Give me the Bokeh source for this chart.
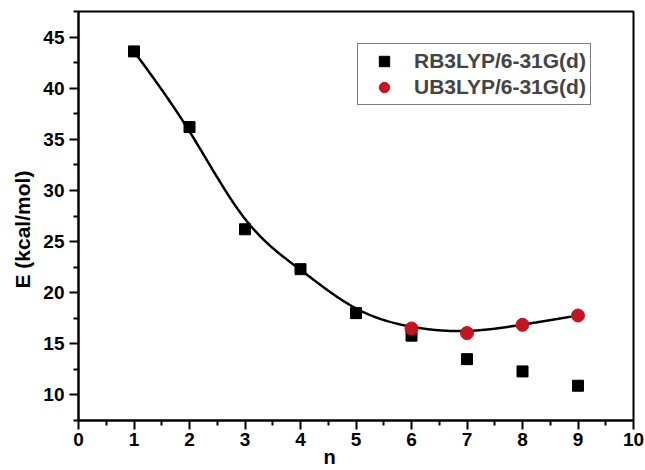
import numpy as np
from bokeh.plotting import figure
from bokeh.models import Range1d, FixedTicker, Legend, LegendItem, Title
from bokeh.embed import file_html
from bokeh.resources import INLINE

# ---- data ----
n_rb = [1, 2, 3, 4, 5, 6, 7, 8, 9]
e_rb = [43.6, 36.2, 26.2, 22.3, 18.0, 15.8, 13.5, 12.3, 10.9]
n_ub = [6, 7, 8, 9]
e_ub = [16.5, 16.05, 16.86, 17.77]
# B-spline line drawn through RB (n=1..5) and UB (n=6..9)
n_fit = [1, 2, 3, 4, 5, 6, 7, 8, 9]
e_fit = [43.6, 36.2, 26.2, 22.3, 18.0, 16.5, 16.05, 16.86, 17.77]
x_ticks = [0, 1, 2, 3, 4, 5, 6, 7, 8, 9, 10]
y_ticks = [10, 15, 20, 25, 30, 35, 40, 45]


def bspline(xs, ys, per_seg=60):
    """Uniform cubic B-spline with the data as control points
    (end points reflected so the curve starts/ends on the data)."""
    P = np.column_stack([xs, ys]).astype(float)
    P = np.vstack([2 * P[0] - P[1], P, 2 * P[-1] - P[-2]])
    out = []
    t = np.linspace(0, 1, per_seg, endpoint=False)
    b0 = (1 - t) ** 3 / 6
    b1 = (3 * t ** 3 - 6 * t ** 2 + 4) / 6
    b2 = (-3 * t ** 3 + 3 * t ** 2 + 3 * t + 1) / 6
    b3 = t ** 3 / 6
    for i in range(len(P) - 3):
        seg = (np.outer(b0, P[i]) + np.outer(b1, P[i + 1])
               + np.outer(b2, P[i + 2]) + np.outer(b3, P[i + 3]))
        out.append(seg)
    last = (P[-3] + 4 * P[-2] + P[-1]) / 6
    out.append(last[None, :])
    out = np.vstack(out)
    return out[:, 0], out[:, 1]


FONT = "Liberation Sans"

p = figure(width=645, height=470, output_backend="svg",
           toolbar_location=None,
           x_range=Range1d(0, 10), y_range=Range1d(7.5, 47.5),
           min_border_left=78, min_border_right=12, min_border_top=11,
           min_border_bottom=50)
p.grid.visible = False
p.background_fill_color = "white"
p.border_fill_color = "white"
p.outline_line_color = "black"
p.outline_line_width = 2

xs, ys = bspline(n_fit, e_fit)
p.line(xs, ys, line_color="black", line_width=2.5)

r_rb = p.scatter(n_rb, e_rb, marker="square", size=11, fill_color="black",
                 line_color="black")
r_ub = p.scatter(n_ub, e_ub, marker="circle", size=13, fill_color="#c3141f",
                 line_color="#c3141f")

for ax in (p.xaxis[0], p.yaxis[0]):
    ax.axis_line_width = 2
    ax.major_tick_line_width = 2
    ax.minor_tick_line_width = 2
    ax.major_tick_out = 9
    ax.major_tick_in = 0
    ax.minor_tick_out = 5
    ax.minor_tick_in = 0
    ax.major_label_text_font = FONT
    ax.major_label_text_font_style = "bold"
    ax.major_label_text_font_size = "19px"
    ax.major_label_text_color = "black"
    ax.axis_line_color = "black"
    ax.major_tick_line_color = "black"
    ax.minor_tick_line_color = "black"

p.xaxis.ticker = FixedTicker(ticks=x_ticks,
                             minor_ticks=[t + 0.5 for t in x_ticks[:-1]])
p.yaxis.ticker = FixedTicker(ticks=y_ticks,
                             minor_ticks=[7.5] + [t + 2.5 for t in y_ticks])
p.xaxis.major_label_standoff = 3
p.yaxis.major_label_standoff = 5

y_title = Title(text="E (kcal/mol)", align="left", offset=132, standoff=14,
                text_font=FONT, text_font_style="bold",
                text_font_size="21px", text_color="black")
p.add_layout(y_title, "left")

x_title = Title(text="n", align="left", offset=245, standoff=0,
                text_font=FONT, text_font_style="bold",
                text_font_size="20px", text_color="black")
try:
    x_title.standoff = -9
except Exception:
    x_title.standoff = 0
p.add_layout(x_title, "below")

legend = Legend(items=[LegendItem(label="RB3LYP/6-31G(d)", renderers=[r_rb]),
                       LegendItem(label="UB3LYP/6-31G(d)", renderers=[r_ub])],
                location=(279, 315), margin=0, padding=4, spacing=0,
                glyph_width=44, glyph_height=26, label_height=26,
                label_standoff=8, border_line_color="black",
                border_line_width=1.5, background_fill_alpha=1,
                label_text_font=FONT, label_text_font_style="bold",
                label_text_font_size="21px")
p.add_layout(legend)

open("out.html", "w").write(file_html(p, INLINE))
